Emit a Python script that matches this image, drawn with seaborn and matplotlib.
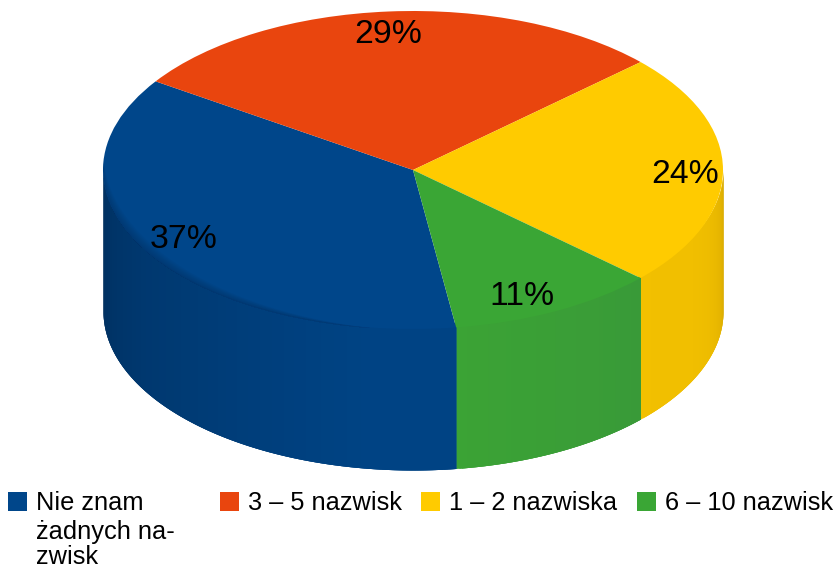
import numpy as np
import matplotlib
matplotlib.use("Agg")
import matplotlib.pyplot as plt
from matplotlib.patches import Patch
import seaborn as sns

categories = ["Nie znam\nżadnych na-\nzwisk", "3 – 5 nazwisk", "1 – 2 nazwiska", "6 – 10 nazwisk"]
values = [37, 29, 24, 11]
top_colors = ["#00468A", "#E9450E", "#FFCB00", "#3AA635"]
side_dark = ["#002F5E", "#B93508", "#D9AA00", "#399A38"]
side_light = ["#004384", "#E9450E", "#F2C000", "#3BA335"]

sns.set_theme(style="white")
plt.rcParams["font.family"] = ["Liberation Sans", "DejaVu Sans"]

W, H = 840, 569
# ellipse of the pie top in pixels
cx, cy, rx, ry = 413, 170, 310, 159
depth = 141 / ry
start = 278

fig = plt.figure(figsize=(W / 100, H / 100), dpi=100)
ax = fig.add_axes([102 / W, 0, (723 - 102) / W, 1])

wedges, _ = ax.pie(values, colors=top_colors, startangle=start, counterclock=False,
                   radius=1, wedgeprops={"linewidth": 0})
for w in wedges:
    w.set_zorder(3)
    w.set_clip_on(True)
ax.set_aspect("auto")
ax.set_xlim((102 - cx) / rx, (723 - cx) / rx)
ax.set_ylim((cy - H) / ry, cy / ry)

# side wall, only the front half (180-360 deg) shows
shares = np.array(values) / sum(values) * 360
edges = start - np.concatenate([[0], np.cumsum(shares)])
for i in range(len(values)):
    a1, a0 = edges[i] % 360, edges[i + 1] % 360
    if a1 <= a0:
        a1 += 360
    lo, hi = max(a0, 180), min(a1, 360)
    if lo >= hi:
        continue
    steps = np.linspace(lo, hi, int((hi - lo) * 2) + 2)
    pal = sns.blend_palette([side_dark[i], side_light[i]], 40)
    for s0, s1 in zip(steps[:-1], steps[1:]):
        # run each strip past the next one so no seams show
        t = np.radians(np.linspace(s0, min(s1 + 1, hi), 4))
        mid = (s0 + s1) / 2
        if i == 0:
            f = min((mid - 180) / 80, 1) ** 0.8
        elif i == 2:
            f = 1 - min(max((mid - 320) / 40, 0), 1) ** 3
        elif i == 3:
            f = 1 - abs(mid - 278) / 40
        else:
            f = 0.5
        x = np.cos(t)
        # top edge tucked under the wedge, avoids a light seam on the rim
        ax.fill_between(x, np.sin(t) * 0.97, np.sin(t) - depth, color=pal[int(f * 39)],
                        linewidth=0, zorder=2)

# soft shadow on the blue top along the left rim
t_deg = np.linspace(180, 262, 120)
t = np.radians(t_deg)
fade = (262 - t_deg) / 82
for k in range(1, 7):
    ax.fill_between(np.cos(t), np.sin(t), np.sin(t) + k / 6 * 18 / ry * fade,
                    color=side_dark[0], alpha=0.09, linewidth=0, zorder=4)

# labels sit by hand on the slices, pixel centre x and baseline y from the picture
label_px = [(184, 248), (388, 43), (685, 183), (522, 305)]
for v, (px, py) in zip(values, label_px):
    ax.text((px - cx) / rx, (cy - py) / ry, f"{v}%", ha="center", va="baseline",
            fontsize=24.3, color="black", zorder=5)

# four separate legends because the gaps are uneven
legend_x = [8, 220, 421, 637]
for lab, col, lx in zip(categories, top_colors, legend_x):
    fig.legend(handles=[Patch(facecolor=col, edgecolor="none", label=lab.split("\n")[0])],
               loc="upper left", bbox_to_anchor=(lx / W, 1 - 491.5 / H), frameon=False,
               borderpad=0, borderaxespad=0, handlelength=0.76, handleheight=0.76,
               handletextpad=0.36, fontsize=18.3, labelcolor="black", labelspacing=0)
# rest of the wrapped first entry, the swatch stays on its first line
for line, base in zip(categories[0].split("\n")[1:], [539, 564]):
    fig.text(36 / W, 1 - base / H, line, ha="left", va="baseline", fontsize=18.3, color="black")

fig.savefig("out.png", dpi=100, facecolor="white")
